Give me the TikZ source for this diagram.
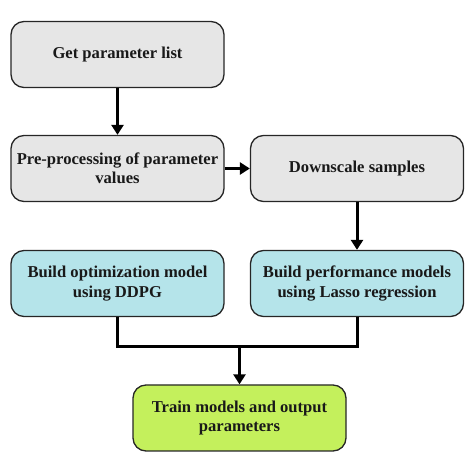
\documentclass[tikz,border=0pt]{standalone}
\usepackage{fontspec}
\setmainfont{Liberation Serif}
\usetikzlibrary{arrows.meta,calc}
\definecolor{boxgray}{HTML}{E6E6E6}
\definecolor{boxblue}{HTML}{B5E4EA}
\definecolor{boxgreen}{HTML}{C4F05C}
\begin{document}
\begin{tikzpicture}[x=1pt,y=1pt,
  stepbox/.style={draw=black!85, line width=1.3pt, rounded corners=13pt,
    minimum width=213pt, minimum height=66pt, align=center,
    font=\fontsize{16.6}{19.5}\selectfont\bfseries, text=black!90, inner sep=1pt},
  conn/.style={line width=3pt, -{Triangle[length=10pt,width=12pt]}},
  plain/.style={line width=3pt}]
\useasboundingbox (0,0) rectangle (474,474);
\node[stepbox, fill=boxgray] (get) at (117.5,419.5) {Get parameter list};
\node[stepbox, fill=boxgray] (pre) at (117.5,305.5) {Pre-processing of parameter\\values};
\node[stepbox, fill=boxgray] (down) at (357,305.5) {Downscale samples};
\node[stepbox, fill=boxblue] (opt) at (117.5,190.5) {Build optimization model\\using DDPG};
\node[stepbox, fill=boxblue] (perf) at (357,190.5) {Build performance models\\using Lasso regression};
\node[stepbox, fill=boxgreen] (train) at (239.5,56) {Train models and output\\parameters};
\coordinate (jl) at (opt.south |- 0,127);
\coordinate (jr) at (perf.south |- 0,127);
\coordinate (jm) at (train.north |- 0,127);
\draw[conn] (get) -- (pre);
\draw[conn] (pre) -- (down);
\draw[conn] (down) -- (perf);
\draw[plain] (opt.south) -- (jl) -- (jr) -- (perf.south);
\draw[conn] (jm) -- (train);
\end{tikzpicture}
\end{document}
